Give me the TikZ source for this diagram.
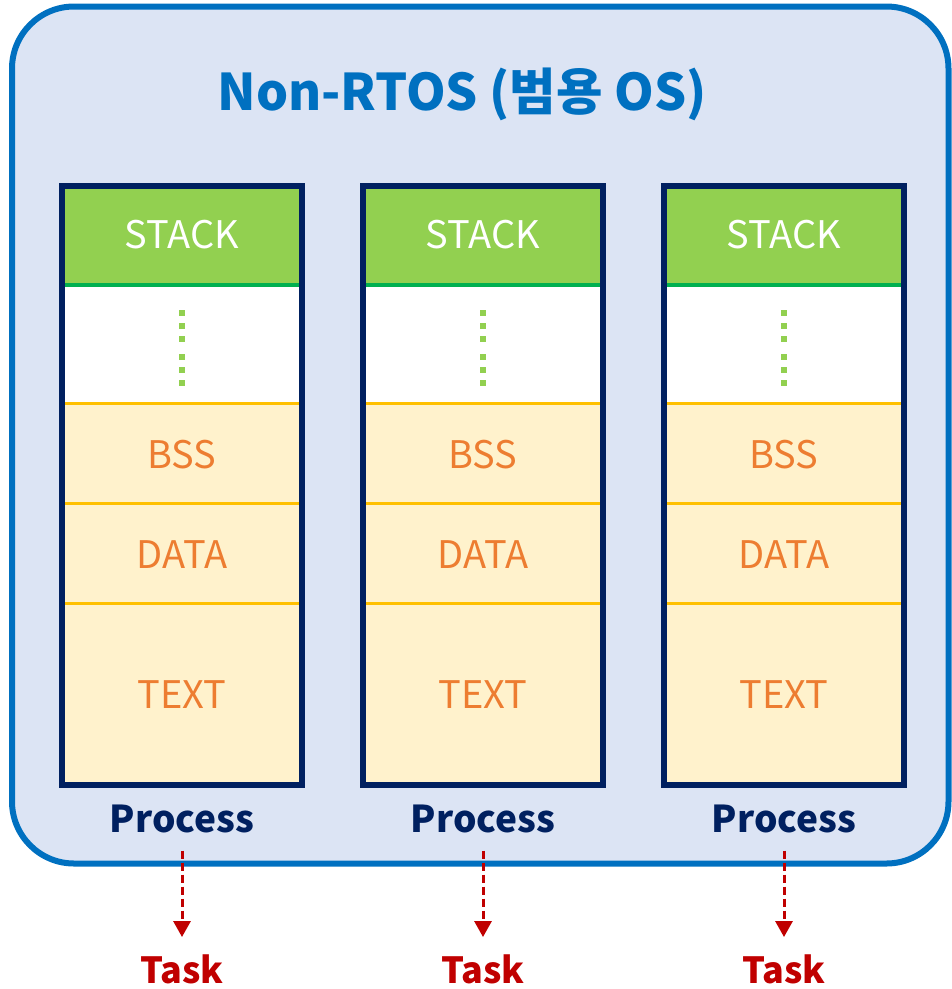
\documentclass[tikz,border=0pt]{standalone}
\usepackage{fontspec}
\setmainfont{Noto Sans CJK KR}
\usetikzlibrary{arrows.meta}
\definecolor{bgblue}{HTML}{DCE4F4}
\definecolor{titleblue}{HTML}{0070C0}
\definecolor{navy}{HTML}{002060}
\definecolor{stackgreen}{HTML}{92D050}
\definecolor{linegreen}{HTML}{00B050}
\definecolor{segyellow}{HTML}{FFF2CC}
\definecolor{lineyellow}{HTML}{FFC000}
\definecolor{segorange}{HTML}{ED7D31}
\definecolor{taskred}{HTML}{C00000}
\tikzset{
  segtext/.style={font=\fontsize{38}{40}\selectfont, text=segorange, inner sep=0pt},
  stacktext/.style={font=\fontsize{38}{40}\selectfont, text=white, inner sep=0pt},
  proctext/.style={font=\bfseries\fontsize{37}{40}\selectfont, text=navy, inner sep=0pt, anchor=base},
  tasktext/.style={font=\bfseries\fontsize{36}{40}\selectfont, text=taskred, inner sep=0pt, anchor=base},
  titletext/.style={font=\bfseries\fontsize{50.5}{56}\selectfont, text=titleblue, inner sep=0pt, anchor=base},
  taskarrow/.style={draw=taskred, line width=3pt, dash pattern=on 8pt off 4pt, -{Triangle[width=17pt,length=16pt,sep=0pt]}, shorten <=18pt, shorten >=17pt},
  outerbox/.style={draw=titleblue, fill=bgblue, line width=6pt, rounded corners=62pt},
  colborder/.style={draw=navy, line width=6pt},
  sepgreen/.style={draw=linegreen, line width=3.5pt},
  sepyellow/.style={draw=lineyellow, line width=3.5pt},
}
\begin{document}
\begin{tikzpicture}[x=1pt,y=-1pt]
\useasboundingbox (0,0) rectangle (952,989);
\draw[outerbox] (12,6.5) rectangle (948.5,863.5);
\node[titletext] (title) at (462,110) {Non-RTOS (범용 OS)};
\foreach \i/\xl in {1/62, 2/363, 3/664} {
  \pgfmathsetmacro{\xr}{\xl+240}
  \pgfmathsetmacro{\xc}{\xl+120}
  \fill[stackgreen] (\xl,186) rectangle (\xr,285);
  \fill[white] (\xl,285) rectangle (\xr,403);
  \fill[segyellow] (\xl,403) rectangle (\xr,785);
  \draw[sepgreen] (\xl,285) -- (\xr,285);
  \draw[sepyellow] (\xl,403.5) -- (\xr,403.5);
  \draw[sepyellow] (\xl,503.5) -- (\xr,503.5);
  \draw[sepyellow] (\xl,603.5) -- (\xr,603.5);
  \foreach \yd in {313,326,339,357,370,383}
    \fill[stackgreen] (\xc-3,\yd-3) rectangle (\xc+3,\yd+3);
  \draw[colborder] (\xl,186) rectangle (\xr,785);
  \node[stacktext] (stack\i) at (\xc,234.5) {STACK};
  \node[segtext] (bss\i) at (\xc,455) {BSS};
  \node[segtext] (data\i) at (\xc,555) {DATA};
  \node[segtext] (text\i) at (\xc,695) {TEXT};
  \node[proctext] (proc\i) at (\xc,832) {Process};
  \node[tasktext] (task\i) at (\xc,983) {Task};
  \draw[taskarrow] (proc\i.south) -- (task\i.north);
}
\end{tikzpicture}
\end{document}
